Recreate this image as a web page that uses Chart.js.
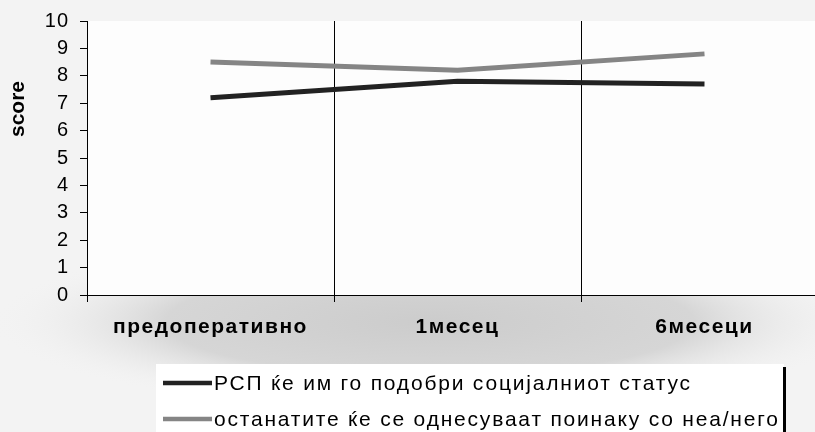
<!DOCTYPE html>
<html>
<head>
<meta charset="utf-8">
<script src="https://cdn.jsdelivr.net/npm/chart.js@4.4.0/dist/chart.umd.min.js"></script>
<style>
  html, body { margin: 0; padding: 0; width: 815px; height: 432px; overflow: hidden; background: #f3f3f3; }
  canvas { display: block; }
</style>
</head>
<body>
<canvas id="chart" width="840" height="432"></canvas>
<script>
// Chart data
const categories = ["предоперативно", "1месец", "6месеци"];
const rspValues = [7.2, 7.8, 7.7];
const othersValues = [8.5, 8.2, 8.8];
const seriesNames = [
  "РСП ќе им го подобри социјалниот статус",
  "останатите ќе се однесуваат поинаку со неа/него"
];
const yAxisTitle = "score";

const FONT = "'Liberation Sans', Arial, sans-serif";
const labelSpacing = { x: "1.5px", y: "1px" };

// background, plot area, shadow under the axis
const backdropPlugin = {
  id: "backdrop",
  beforeDraw(chart) {
    const { ctx, chartArea, width, height } = chart;
    ctx.save();
    ctx.fillStyle = "#f3f3f3";
    ctx.fillRect(0, 0, width, height);

    // soft grey band below the x axis
    ctx.save();
    ctx.translate(430, 322);
    ctx.scale(1, 0.2);
    const g = ctx.createRadialGradient(0, 0, 0, 0, 0, 440);
    g.addColorStop(0, "#cccccc");
    g.addColorStop(0.6, "#d6d6d6");
    g.addColorStop(1, "rgba(243,243,243,0)");
    ctx.fillStyle = g;
    ctx.fillRect(-440, -440, 880, 880);
    ctx.restore();

    ctx.fillStyle = "#fdfdfd";
    ctx.fillRect(chartArea.left, chartArea.top, chartArea.right - chartArea.left, chartArea.bottom - chartArea.top);
    ctx.restore();
  },
  afterLayout(chart) {
    // Excel-like letter spacing on the tick labels
    ["x", "y"].forEach(id => {
      const s = chart.scales[id];
      if (!s || s._spaced) return;
      const orig = s.drawLabels;
      s.drawLabels = function (area) {
        this.ctx.save();
        this.ctx.letterSpacing = labelSpacing[id];
        orig.call(this, area);
        this.ctx.restore();
      };
      s._spaced = true;
    });
  }
};

// y title and the boxed legend at the bottom
const legendPlugin = {
  id: "boxLegend",
  afterDraw(chart) {
    const { ctx } = chart;
    ctx.save();

    ctx.translate(18, 109);
    ctx.rotate(-Math.PI / 2);
    ctx.font = "bold 21px " + FONT;
    ctx.fillStyle = "#000";
    ctx.textAlign = "center";
    ctx.textBaseline = "middle";
    ctx.fillText(yAxisTitle, 0, 0);
    ctx.setTransform(1, 0, 0, 1, 0, 0);

    ctx.fillStyle = "#ffffff";
    ctx.fillRect(156, 364, 628, 68);
    ctx.fillStyle = "#000";
    ctx.fillRect(783, 367, 3, 65);

    const rows = [383, 419];
    ctx.font = "21px " + FONT;
    ctx.letterSpacing = "1.8px";
    ctx.textAlign = "left";
    ctx.textBaseline = "middle";
    chart.data.datasets.forEach((ds, i) => {
      ctx.strokeStyle = ds.borderColor;
      ctx.lineWidth = 4.5;
      ctx.beginPath();
      ctx.moveTo(163, rows[i]);
      ctx.lineTo(212, rows[i]);
      ctx.stroke();
      ctx.fillStyle = "#000";
      ctx.fillText(ds.label, 214, rows[i] + 1);
    });
    ctx.restore();
  }
};

new Chart(document.getElementById("chart"), {
  type: "line",
  data: {
    labels: categories,
    datasets: [
      {
        label: seriesNames[0],
        data: rspValues,
        borderColor: "#222222",
        borderWidth: 5,
        pointRadius: 0,
        borderCapStyle: "butt",
        tension: 0
      },
      {
        label: seriesNames[1],
        data: othersValues,
        borderColor: "#858585",
        borderWidth: 5,
        pointRadius: 0,
        borderCapStyle: "butt",
        tension: 0
      }
    ]
  },
  options: {
    responsive: false,
    animation: false,
    layout: { padding: { top: 20, right: 12, bottom: 87, left: 0 } },
    plugins: {
      legend: { display: false },
      tooltip: { enabled: false }
    },
    scales: {
      x: {
        offset: true,
        grid: {
          offset: true,
          color: "#000",
          lineWidth: 1,
          tickLength: 7,
          drawTicks: true
        },
        border: { display: true, color: "#000", width: 1 },
        ticks: {
          color: "#000",
          font: { family: FONT, size: 21, weight: "bold" },
          padding: 13,
          autoSkip: false,
          maxRotation: 0
        },
        afterFit(scale) { scale.height = 50; }
      },
      y: {
        min: 0,
        max: 10,
        grid: {
          drawOnChartArea: false,
          color: "#000",
          tickLength: 7
        },
        border: { display: true, color: "#000", width: 1 },
        ticks: {
          stepSize: 1,
          color: "#000",
          font: { family: FONT, size: 20, lineHeight: 1 },
          padding: 11
        },
        afterFit(scale) { scale.width = 87; }
      }
    }
  },
  plugins: [backdropPlugin, legendPlugin]
});
</script>
</body>
</html>
